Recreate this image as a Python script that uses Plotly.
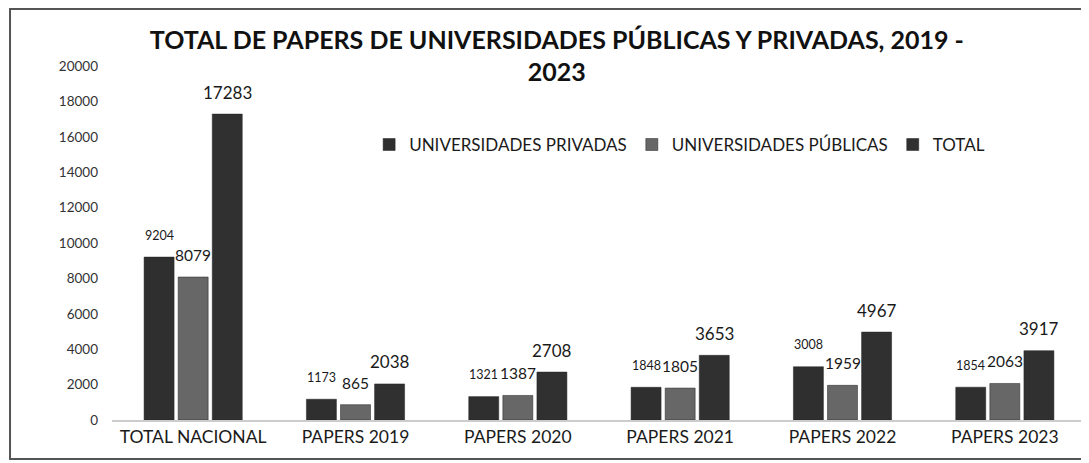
import plotly.graph_objects as go

categories = ["TOTAL NACIONAL", "PAPERS 2019", "PAPERS 2020", "PAPERS 2021", "PAPERS 2022", "PAPERS 2023"]
privadas = [9204, 1173, 1321, 1848, 3008, 1854]
publicas = [8079, 865, 1387, 1805, 1959, 2063]
total = [17283, 2038, 2708, 3653, 4967, 3917]
series_names = ["UNIVERSIDADES PRIVADAS", "UNIVERSIDADES PÚBLICAS", "TOTAL"]
y_ticks = [0, 2000, 4000, 6000, 8000, 10000, 12000, 14000, 16000, 18000, 20000]

FONT = "Lato"
colors = ["#2f2f2f", "#676767", "#303030"]
label_sizes = [12.5, 15.5, 17]
series = [privadas, publicas, total]

fig = go.Figure()
for name, vals, col in zip(series_names, series, colors):
    fig.add_trace(go.Bar(
        x=categories, y=vals, name=name,
        marker=dict(color=col, line=dict(color="#222222", width=0.5)),
    ))

annotations = []
shifts = [-34, 0, 34]
for vals, size, dx in zip(series, label_sizes, shifts):
    for c, v in zip(categories, vals):
        annotations.append(dict(
            x=c, y=v, xref="x", yref="y", text=str(v), showarrow=False,
            xshift=dx, yshift=22, yanchor="middle",
            font=dict(family=FONT, size=size, color="#1a1a1a"),
        ))

fig.update_layout(
    width=1089, height=463,
    margin=dict(l=104, r=11, t=58, b=51),
    paper_bgcolor="white", plot_bgcolor="white",
    barmode="group", bargap=0.37, bargroupgap=0.12,
    font=dict(family=FONT, color="#222222"),
    title=dict(
        text="<b>TOTAL DE PAPERS DE UNIVERSIDADES PÚBLICAS Y PRIVADAS, 2019 -<br>2023</b>",
        x=0.504, xanchor="center", xref="container",
        y=0.912, yanchor="top", yref="container",
        font=dict(family=FONT, size=25, color="#111111"),
    ),
    legend=dict(
        orientation="h", x=0.264, y=0.777, xanchor="left", yanchor="middle",
        font=dict(family=FONT, size=17, color="#1a1a1a"),
        bgcolor="rgba(0,0,0,0)", traceorder="normal",
    ),
    showlegend=True,
    annotations=annotations,
    shapes=[dict(type="rect", xref="paper", yref="paper",
                 x0=-0.1047, x1=0.999, y0=-0.110, y1=1.161,
                 line=dict(color="#555555", width=2))],
)
fig.update_xaxes(
    showline=True, linecolor="#cccccc", linewidth=1.5, ticks="",
    tickfont=dict(family=FONT, size=17.5, color="#1a1a1a"), showgrid=False,
)
fig.update_yaxes(
    range=[0, 20000], tickvals=y_ticks, tickformat="d", showgrid=False, zeroline=False,
    showline=False, ticks="", ticklabelstandoff=13,
    tickfont=dict(family=FONT, size=13.5, color="#333333"),
)
fig.write_html("out.html")
